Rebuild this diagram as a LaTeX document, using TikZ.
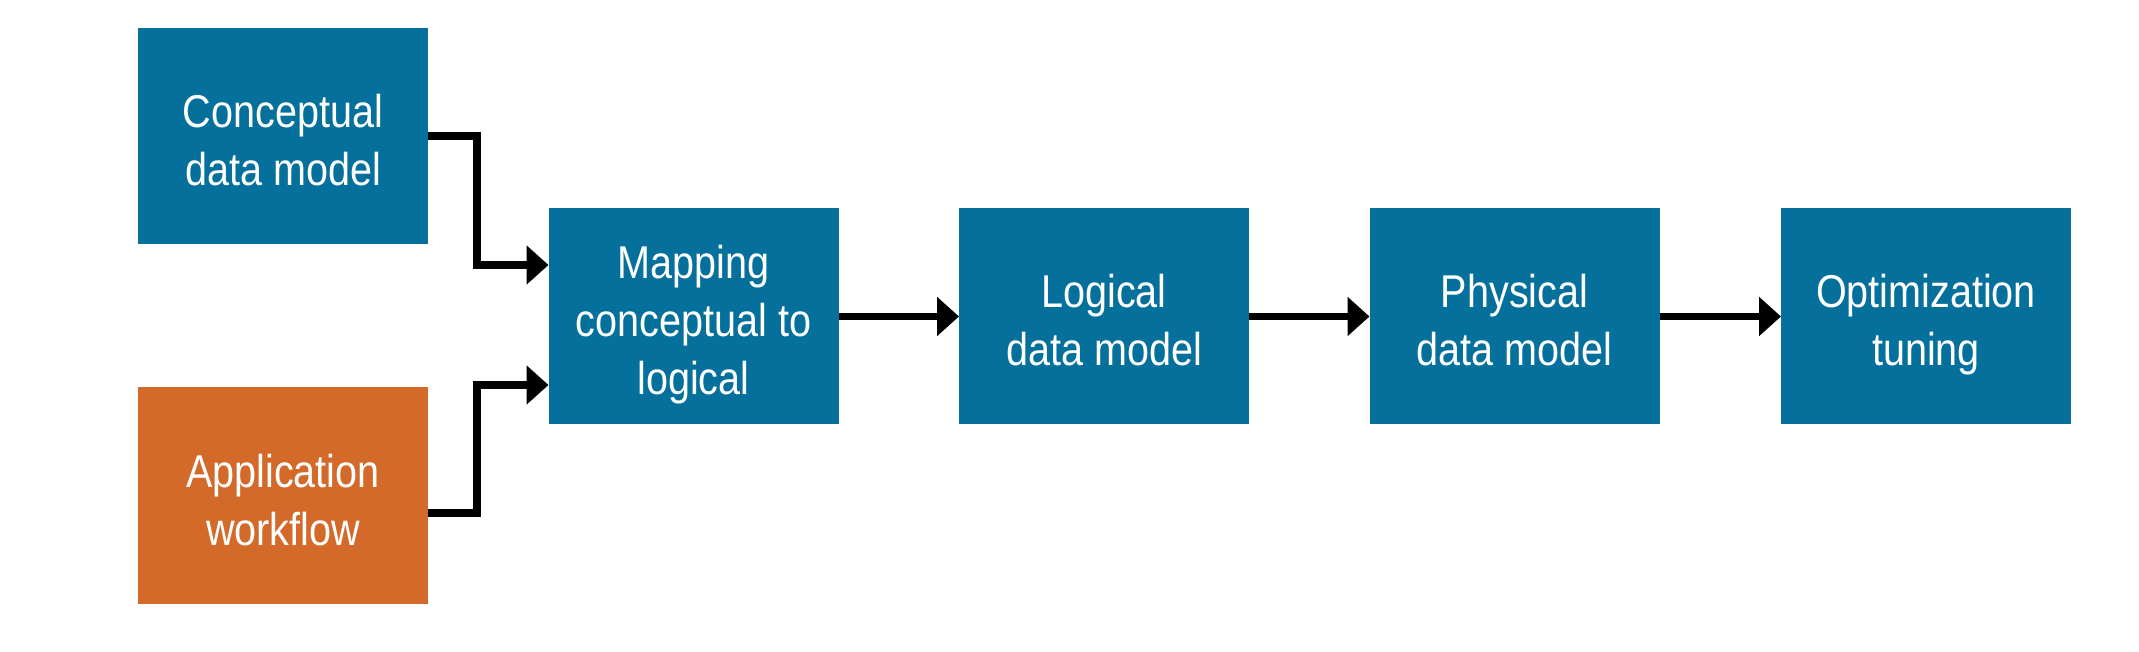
\documentclass[tikz,border=0pt]{standalone}
\usepackage{fontspec}
\setmainfont[FakeStretch=0.86]{Liberation Sans}
\usetikzlibrary{arrows.meta}
\definecolor{boxblue}{RGB}{4,112,155}
\definecolor{boxorange}{RGB}{211,106,42}
\newcommand{\topstrut}{\rule{0pt}{56pt}}
\newcommand{\botstrut}{\rule[-15pt]{0pt}{15pt}}
\tikzset{
  stage/.style={fill=boxblue, draw=none, minimum width=290pt, minimum height=216pt,
    inner sep=0pt, outer sep=0pt, text=white, align=center,
    font=\fontsize{46}{58}\selectfont},
  stageorange/.style={stage, fill=boxorange},
  flow/.style={draw=black, line width=7.5pt, line join=miter,
    -{Triangle[length=22pt,width=38pt]}}
}
\begin{document}
\begin{tikzpicture}[x=1pt,y=1pt]
\useasboundingbox (0,0) rectangle (2139,651);
\fill[white] (0,0) rectangle (2139,651);
\node[stage] (c) at (283,515) {\topstrut Conceptual\\data model\botstrut};
\node[stageorange] (a) at (283,155.5) {\topstrut Application\\workflow\botstrut};
\node[stage] (m) at (693.5,334.5) {\topstrut Mapping\\conceptual to\\logical\botstrut};
\node[stage] (l) at (1104,334.5) {\topstrut Logical\\data model\botstrut};
\node[stage] (p) at (1514.5,334.5) {\topstrut Physical\\data model\botstrut};
\node[stage] (o) at (1926,334.5) {\topstrut Optimization\\tuning\botstrut};
\coordinate (cj) at (477,515);
\coordinate (aj) at (477,138);
\draw[flow] (c.east) -- (cj) |- ([yshift=51.5pt]m.west);
\draw[flow] ([yshift=-17.5pt]a.east) -- (aj) |- ([yshift=-68.5pt]m.west);
\draw[flow] (m) -- (l);
\draw[flow] (l) -- (p);
\draw[flow] (p) -- (o);
\end{tikzpicture}
\end{document}
